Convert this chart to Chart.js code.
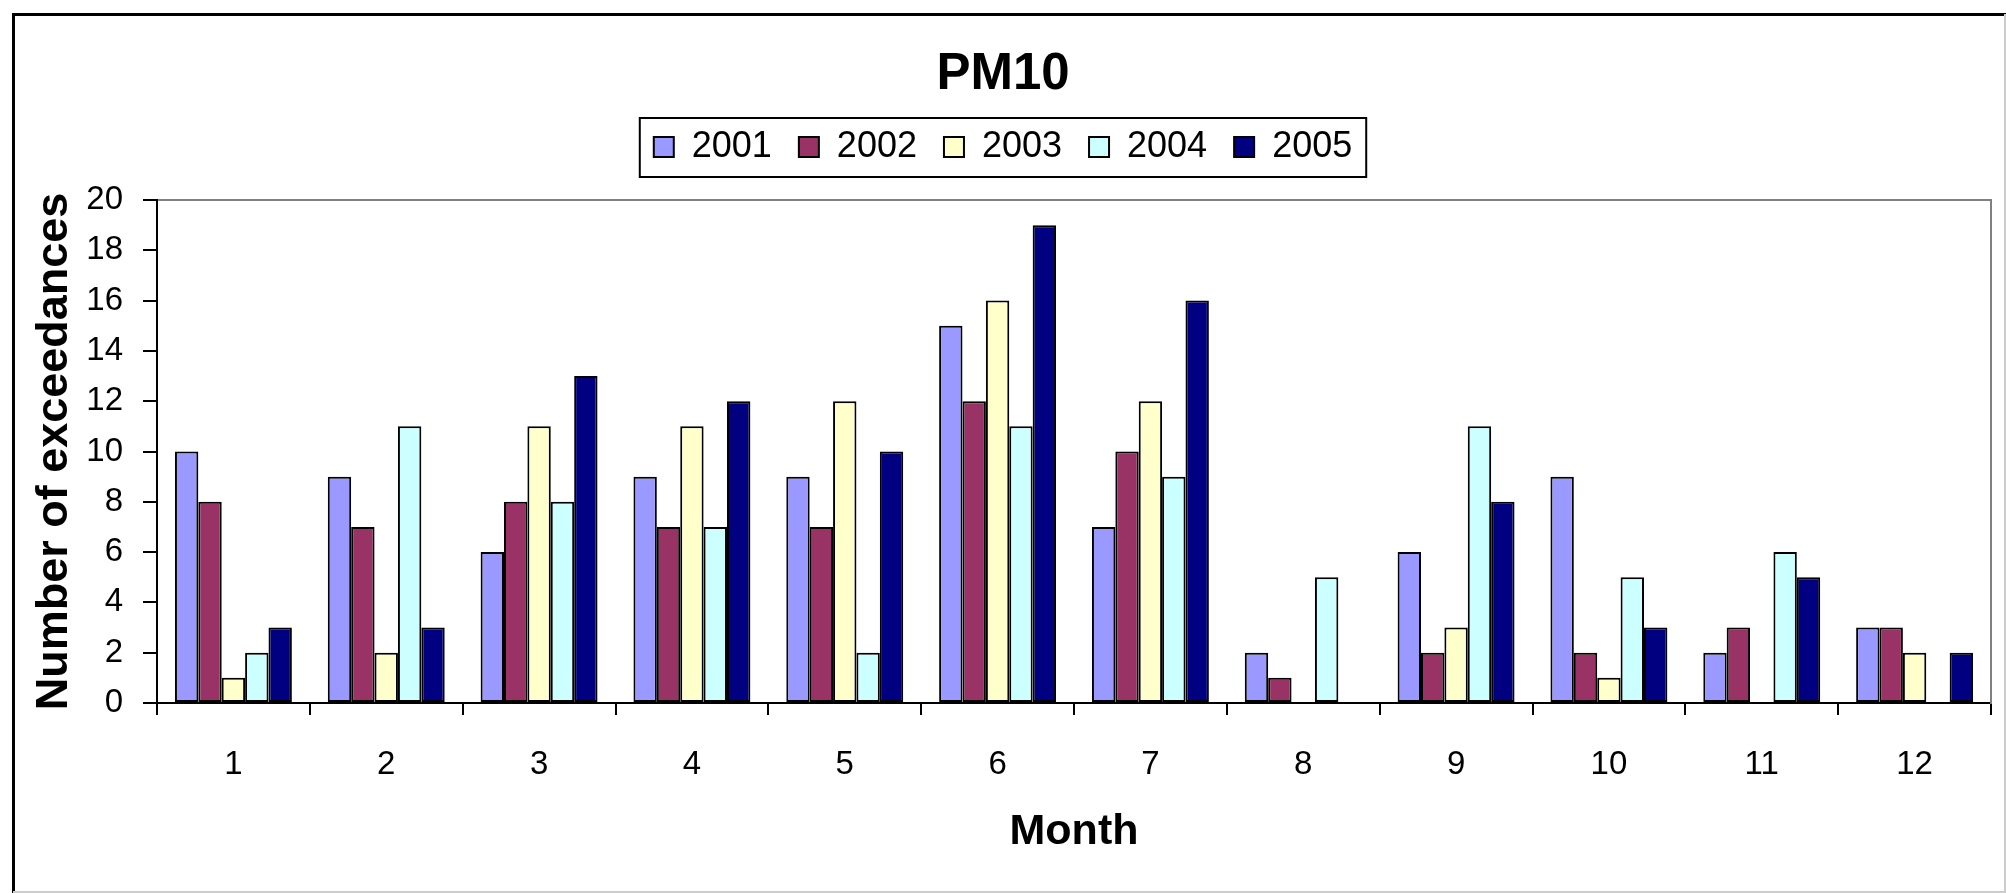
<!DOCTYPE html>
<html>
<head>
<meta charset="utf-8">
<script src="https://cdn.jsdelivr.net/npm/chart.js@4.4.1/dist/chart.umd.min.js"></script>
<style>
  html, body { margin: 0; padding: 0; background: #fff; }
  #wrap { position: relative; width: 2006px; height: 893px; }
</style>
</head>
<body>
<div id="wrap"><canvas id="pm10Chart"></canvas></div>
<script>
// months on the x axis
const months = ['1', '2', '3', '4', '5', '6', '7', '8', '9', '10', '11', '12'];
const years = ['2001', '2002', '2003', '2004', '2005'];

// number of exceedances per month, one array per year
const values2001 = [10, 9, 6, 9, 9, 15, 7, 2, 6, 9, 2, 3];
const values2002 = [8, 7, 8, 7, 7, 12, 10, 1, 2, 2, 3, 3];
const values2003 = [1, 2, 11, 11, 12, 16, 12, 0, 3, 1, 0, 2];
const values2004 = [2, 11, 8, 7, 2, 11, 9, 5, 11, 5, 6, 0];
const values2005 = [3, 3, 13, 12, 10, 19, 16, 0, 8, 3, 5, 2];

const yTicks = [0, 2, 4, 6, 8, 10, 12, 14, 16, 18, 20];

const seriesColors = ['#9999FF', '#993366', '#FFFFCC', '#CCFFFF', '#000080'];
const FONT = "'Liberation Sans', Arial, sans-serif";

document.addEventListener('DOMContentLoaded', function() {
  const ctx = document.getElementById('pm10Chart');

  const allValues = [values2001, values2002, values2003, values2004, values2005];
  const datasets = years.map(function(y, i) {
    return {
      label: y,
      data: allValues[i],
      backgroundColor: seriesColors[i],
      borderColor: '#000000',
      // no outline on empty months
      borderWidth: function(c) { return c.raw ? 2 : 0; },
      borderSkipped: false,
      categoryPercentage: 0.765,
      barPercentage: 1.0
    };
  });

  // white background, outer frame and the box round the legend
  const framePlugin = {
    id: 'frame',
    beforeDraw(chart) {
      const c = chart.ctx;
      c.save();
      c.fillStyle = '#ffffff';
      c.fillRect(0, 0, chart.width, chart.height);
      c.restore();
    },
    afterDraw(chart) {
      const c = chart.ctx;
      const w = chart.width, h = chart.height;
      c.save();
      c.strokeStyle = '#000000';
      c.lineWidth = 3;
      c.beginPath();
      c.moveTo(13.5, h);
      c.lineTo(13.5, 14.5);
      c.lineTo(w, 14.5);
      c.stroke();
      c.strokeStyle = '#cccccc';
      c.lineWidth = 2;
      c.beginPath();
      c.moveTo(13, h - 1);
      c.lineTo(w - 1, h - 1);
      c.lineTo(w - 1, 14);
      c.stroke();

      const boxes = chart.legend.legendHitBoxes;
      if (boxes && boxes.length) {
        const first = boxes[0], last = boxes[boxes.length - 1];
        const l = first.left - 14;
        const r = last.left + last.width + 14;
        const t = first.top - 11;
        const b = first.top + first.height + 12;
        c.strokeStyle = '#000000';
        c.lineWidth = 2;
        c.strokeRect(l, t, r - l, b - t);
      }
      c.restore();
    }
  };

  new Chart(ctx, {
    type: 'bar',
    data: { labels: months, datasets: datasets },
    plugins: [framePlugin],
    options: {
      responsive: true,
      maintainAspectRatio: false,
      animation: false,
      layout: { padding: { left: 0, right: 0, top: 0, bottom: 0 } },
      plugins: {
        title: {
          display: true,
          text: 'PM10',
          color: '#000000',
          font: { family: FONT, size: 51, weight: 'bold', lineHeight: 1.0 },
          padding: { top: 49, bottom: 2 }
        },
        legend: {
          display: true,
          position: 'top',
          labels: {
            color: '#000000',
            font: { family: FONT, size: 36 },
            boxWidth: 20,
            boxHeight: 20,
            padding: 27
          }
        },
        tooltip: { enabled: false }
      },
      scales: {
        x: {
          position: 'bottom',
          grid: {
            offset: true,
            drawOnChartArea: false,
            drawTicks: true,
            tickLength: 12,
            color: '#000000',
            lineWidth: 2
          },
          border: { display: true, color: '#000000', width: 2 },
          ticks: {
            color: '#000000',
            font: { family: FONT, size: 33 },
            padding: 30,
            maxRotation: 0
          },
          title: {
            display: true,
            text: 'Month',
            color: '#000000',
            font: { family: FONT, size: 43, weight: 'bold' },
            padding: { top: 35, bottom: 35 }
          },
          afterFit(scale) { scale.height = 190; }
        },
        x2: {
          position: 'top',
          display: true,
          grid: { display: false },
          border: { display: true, color: '#808080', width: 2 },
          ticks: { display: false },
          afterFit(scale) { scale.height = 25; }
        },
        y: {
          position: 'left',
          min: 0,
          max: 20,
          afterBuildTicks(scale) {
            scale.ticks = yTicks.map(function(v) { return { value: v }; });
          },
          grid: {
            drawOnChartArea: false,
            drawTicks: true,
            tickLength: 14,
            color: '#000000',
            lineWidth: 2
          },
          border: { display: true, color: '#000000', width: 2 },
          ticks: {
            color: '#000000',
            font: { family: FONT, size: 33 },
            padding: 20
          },
          title: {
            display: true,
            text: 'Number of exceedances',
            color: '#000000',
            font: { family: FONT, size: 45, weight: 'bold' },
            padding: { top: 28, bottom: 0 }
          },
          afterFit(scale) { scale.width = 157; }
        },
        y2: {
          position: 'right',
          display: true,
          min: 0,
          max: 20,
          grid: { display: false },
          border: { display: true, color: '#808080', width: 2 },
          ticks: { display: false },
          afterFit(scale) { scale.width = 15; }
        }
      }
    }
  });
});
</script>
</body>
</html>
